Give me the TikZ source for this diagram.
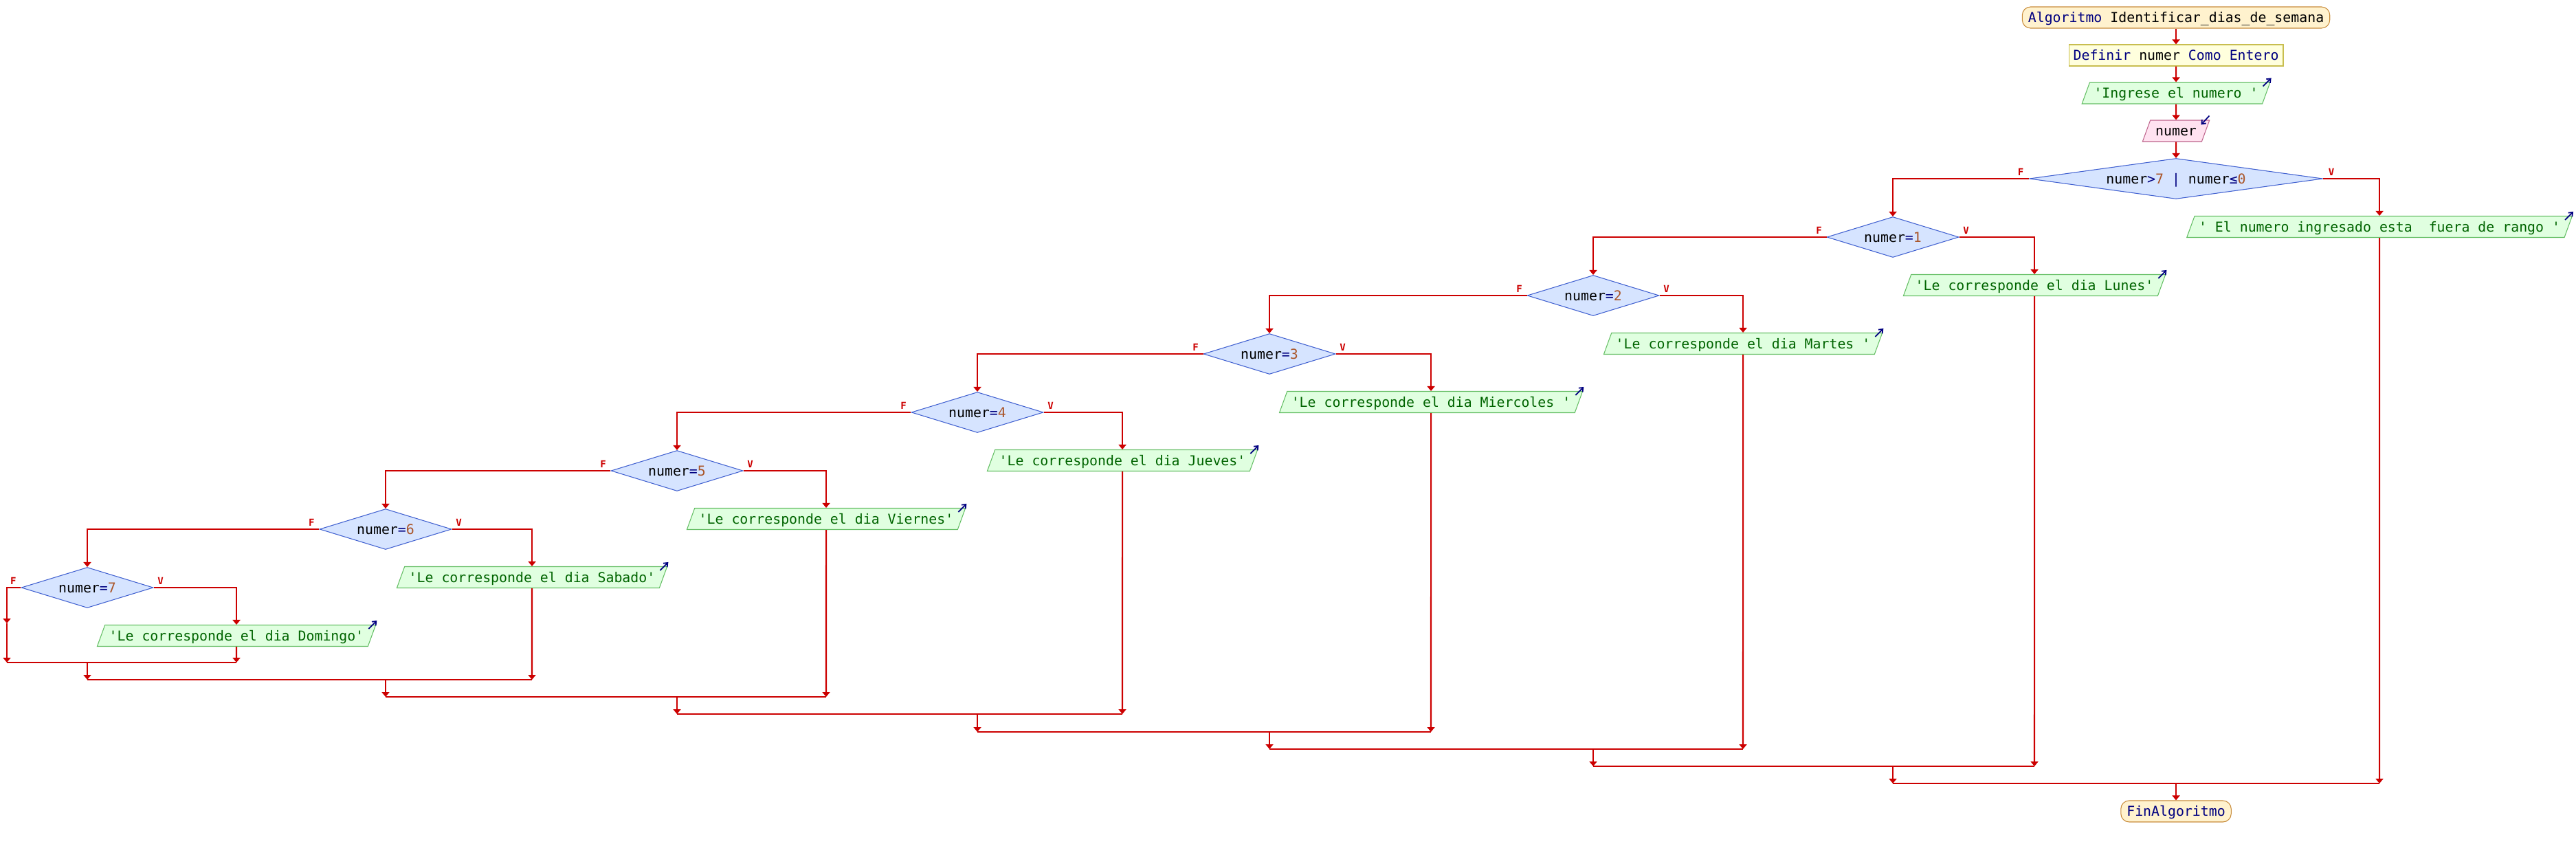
\documentclass[tikz,border=0pt]{standalone}
\usepackage{fontspec}
\setmonofont{DejaVu Sans Mono}
\usetikzlibrary{shapes.geometric}
\usetikzlibrary{arrows.meta}

\definecolor{linea}{RGB}{204,0,0}
\definecolor{azul}{RGB}{0,0,128}
\definecolor{numcol}{RGB}{170,85,40}
\definecolor{verdetxt}{RGB}{0,100,0}
\definecolor{termfondo}{RGB}{255,242,206}
\definecolor{termborde}{RGB}{200,140,60}
\definecolor{deffondo}{RGB}{255,255,221}
\definecolor{defborde}{RGB}{200,190,80}
\definecolor{salfondo}{RGB}{224,255,224}
\definecolor{salborde}{RGB}{100,190,100}
\definecolor{entfondo}{RGB}{255,226,240}
\definecolor{entborde}{RGB}{190,100,140}
\definecolor{condfondo}{RGB}{214,228,255}
\definecolor{condborde}{RGB}{64,96,208}

\newcommand{\kwc}[1]{\textcolor{azul}{#1}}
\newcommand{\numc}[1]{\textcolor{numcol}{#1}}

\begin{document}
\begin{tikzpicture}[font=\ttfamily\fontsize{5.65pt}{6.5pt}\selectfont,
	terminal/.style={rectangle, rounded corners=0.12cm, draw=termborde, fill=termfondo, line width=0.3pt, inner xsep=0.085cm, inner ysep=0pt, text height=0.225cm, text depth=0.085cm},
	defbox/.style={rectangle, draw=defborde, fill=deffondo, line width=0.3pt, inner xsep=0.065cm, inner ysep=0pt, text height=0.225cm, text depth=0.085cm},
	salida/.style={trapezium, trapezium left angle=70, trapezium right angle=110, draw=salborde, fill=salfondo, text=verdetxt, line width=0.3pt, inner xsep=0.06cm, inner ysep=0pt, text height=0.225cm, text depth=0.085cm},
	entrada/.style={salida, draw=entborde, fill=entfondo, text=black, inner xsep=0.075cm},
	cond/.style={diamond, aspect=3.25, draw=condborde, fill=condfondo, line width=0.3pt, minimum width=1.92cm, minimum height=0.59cm, inner sep=0pt, text height=0.14cm, text depth=0pt},
	flujo/.style={draw=linea, line width=0.6pt, -{Triangle[length=0.07cm,width=0.11cm]}},
	tramo/.style={draw=linea, line width=0.6pt},
	rama/.style={text=linea, font=\ttfamily\bfseries\fontsize{4pt}{4pt}\selectfont, inner sep=0pt},
	io/.style={draw=azul, line width=0.5pt, -{Straight Barb[length=0.05cm,width=0.08cm]}}]

		\useasboundingbox (0,0) rectangle (37.48,-12.30);

		\node[terminal] (inicio) at (31.66,-0.255) {\kwc{Algoritmo} Identificar\_dias\_de\_semana};
		\node[defbox] (definir) at (31.66,-0.805) {\kwc{Definir} numer \kwc{Como Entero}};
		\node[salida] (ingrese) at (31.66,-1.355) {'Ingrese el numero '};
		\node[entrada] (leer) at (31.66,-1.905) {numer};

		\node[cond, aspect=7.2, minimum width=4.27cm] (d0) at (31.66,-2.60) {numer\kwc{>}\numc{7} \kwc{|} numer\kwc{≤}\numc{0}};
		\node[cond] (d1) at (27.54,-3.45) {numer\kwc{=}\numc{1}};
		\node[cond] (d2) at (23.18,-4.30) {numer\kwc{=}\numc{2}};
		\node[cond] (d3) at (18.47,-5.15) {numer\kwc{=}\numc{3}};
		\node[cond] (d4) at (14.22,-6.00) {numer\kwc{=}\numc{4}};
		\node[cond] (d5) at (9.85,-6.85) {numer\kwc{=}\numc{5}};
		\node[cond] (d6) at (5.61,-7.70) {numer\kwc{=}\numc{6}};
		\node[cond] (d7) at (1.27,-8.55) {numer\kwc{=}\numc{7}};

		\node[salida] (o0) at (34.62,-3.30) {' El numero ingresado esta~~fuera de rango '};
		\node[salida] (o1) at (29.60,-4.15) {'Le corresponde el dia Lunes'};
		\node[salida] (o2) at (25.36,-5.00) {'Le corresponde el dia Martes '};
		\node[salida] (o3) at (20.82,-5.85) {'Le corresponde el dia Miercoles '};
		\node[salida] (o4) at (16.33,-6.70) {'Le corresponde el dia Jueves'};
		\node[salida] (o5) at (12.02,-7.55) {'Le corresponde el dia Viernes'};
		\node[salida] (o6) at (7.74,-8.40) {'Le corresponde el dia Sabado'};
		\node[salida] (o7) at (3.44,-9.25) {'Le corresponde el dia Domingo'};

		\node[terminal] (fin) at (31.66,-11.805) {\kwc{FinAlgoritmo}};

		\draw[io] ([shift={(-0.11,-0.06)}]ingrese.top right corner) -- ++(0.12,0.12);
		\draw[io] ([shift={(-0.01,0.06)}]leer.top right corner) -- ++(-0.12,-0.13);
		\draw[io] ([shift={(-0.11,-0.06)}]o0.top right corner) -- ++(0.12,0.12);
		\draw[io] ([shift={(-0.11,-0.06)}]o1.top right corner) -- ++(0.12,0.12);
		\draw[io] ([shift={(-0.11,-0.06)}]o2.top right corner) -- ++(0.12,0.12);
		\draw[io] ([shift={(-0.11,-0.06)}]o3.top right corner) -- ++(0.12,0.12);
		\draw[io] ([shift={(-0.11,-0.06)}]o4.top right corner) -- ++(0.12,0.12);
		\draw[io] ([shift={(-0.11,-0.06)}]o5.top right corner) -- ++(0.12,0.12);
		\draw[io] ([shift={(-0.11,-0.06)}]o6.top right corner) -- ++(0.12,0.12);
		\draw[io] ([shift={(-0.11,-0.06)}]o7.top right corner) -- ++(0.12,0.12);

		\draw[flujo] (inicio) -- (definir);
		\draw[flujo] (definir) -- (ingrese);
		\draw[flujo] (ingrese) -- (leer);
		\draw[flujo] (leer) -- (d0);

		\draw[flujo] (d0.west) -| (d1.north);
		\draw[flujo] (d0.east) -| (o0.north);
		\draw[flujo] (d1.west) -| (d2.north);
		\draw[flujo] (d1.east) -| (o1.north);
		\draw[flujo] (d2.west) -| (d3.north);
		\draw[flujo] (d2.east) -| (o2.north);
		\draw[flujo] (d3.west) -| (d4.north);
		\draw[flujo] (d3.east) -| (o3.north);
		\draw[flujo] (d4.west) -| (d5.north);
		\draw[flujo] (d4.east) -| (o4.north);
		\draw[flujo] (d5.west) -| (d6.north);
		\draw[flujo] (d5.east) -| (o5.north);
		\draw[flujo] (d6.west) -| (d7.north);
		\draw[flujo] (d6.east) -| (o6.north);
		\coordinate (vacio) at (0.10,-9.07);
		\draw[flujo] (d7.west) -| (vacio);
		\draw[flujo] (d7.east) -| (o7.north);

		\node[rama] (f0) at ([xshift=-0.12cm,yshift=0.10cm]d0.west) {F};
		\node[rama] (v0) at ([xshift=0.12cm,yshift=0.10cm]d0.east) {V};
		\node[rama] (f1) at ([xshift=-0.11cm,yshift=0.10cm]d1.west) {F};
		\node[rama] (v1) at ([xshift=0.10cm,yshift=0.10cm]d1.east) {V};
		\node[rama] (f2) at ([xshift=-0.11cm,yshift=0.10cm]d2.west) {F};
		\node[rama] (v2) at ([xshift=0.10cm,yshift=0.10cm]d2.east) {V};
		\node[rama] (f3) at ([xshift=-0.11cm,yshift=0.10cm]d3.west) {F};
		\node[rama] (v3) at ([xshift=0.10cm,yshift=0.10cm]d3.east) {V};
		\node[rama] (f4) at ([xshift=-0.11cm,yshift=0.10cm]d4.west) {F};
		\node[rama] (v4) at ([xshift=0.10cm,yshift=0.10cm]d4.east) {V};
		\node[rama] (f5) at ([xshift=-0.11cm,yshift=0.10cm]d5.west) {F};
		\node[rama] (v5) at ([xshift=0.10cm,yshift=0.10cm]d5.east) {V};
		\node[rama] (f6) at ([xshift=-0.11cm,yshift=0.10cm]d6.west) {F};
		\node[rama] (v6) at ([xshift=0.10cm,yshift=0.10cm]d6.east) {V};
		\node[rama] (f7) at ([xshift=-0.11cm,yshift=0.10cm]d7.west) {F};
		\node[rama] (v7) at ([xshift=0.10cm,yshift=0.10cm]d7.east) {V};

		\coordinate (j7) at (0,-9.64);
		\coordinate (j6) at (0,-9.89);
		\coordinate (j5) at (0,-10.14);
		\coordinate (j4) at (0,-10.39);
		\coordinate (j3) at (0,-10.65);
		\coordinate (j2) at (0,-10.90);
		\coordinate (j1) at (0,-11.15);
		\coordinate (j0) at (0,-11.40);

		\draw[tramo] (vacio |- j7) -- (o7 |- j7);
		\draw[flujo] (vacio) -- (vacio |- j7);
		\draw[flujo] (o7.south) -- (o7 |- j7);

		\draw[tramo] (d7 |- j6) -- (o6 |- j6);
		\draw[flujo] (d7 |- j7) -- (d7 |- j6);
		\draw[flujo] (o6.south) -- (o6 |- j6);

		\draw[tramo] (d6 |- j5) -- (o5 |- j5);
		\draw[flujo] (d6 |- j6) -- (d6 |- j5);
		\draw[flujo] (o5.south) -- (o5 |- j5);

		\draw[tramo] (d5 |- j4) -- (o4 |- j4);
		\draw[flujo] (d5 |- j5) -- (d5 |- j4);
		\draw[flujo] (o4.south) -- (o4 |- j4);

		\draw[tramo] (d4 |- j3) -- (o3 |- j3);
		\draw[flujo] (d4 |- j4) -- (d4 |- j3);
		\draw[flujo] (o3.south) -- (o3 |- j3);

		\draw[tramo] (d3 |- j2) -- (o2 |- j2);
		\draw[flujo] (d3 |- j3) -- (d3 |- j2);
		\draw[flujo] (o2.south) -- (o2 |- j2);

		\draw[tramo] (d2 |- j1) -- (o1 |- j1);
		\draw[flujo] (d2 |- j2) -- (d2 |- j1);
		\draw[flujo] (o1.south) -- (o1 |- j1);

		\draw[tramo] (d1 |- j0) -- (o0 |- j0);
		\draw[flujo] (d1 |- j1) -- (d1 |- j0);
		\draw[flujo] (o0.south) -- (o0 |- j0);

		\draw[flujo] (d0 |- j0) -- (fin);

	\end{tikzpicture}
\end{document}
